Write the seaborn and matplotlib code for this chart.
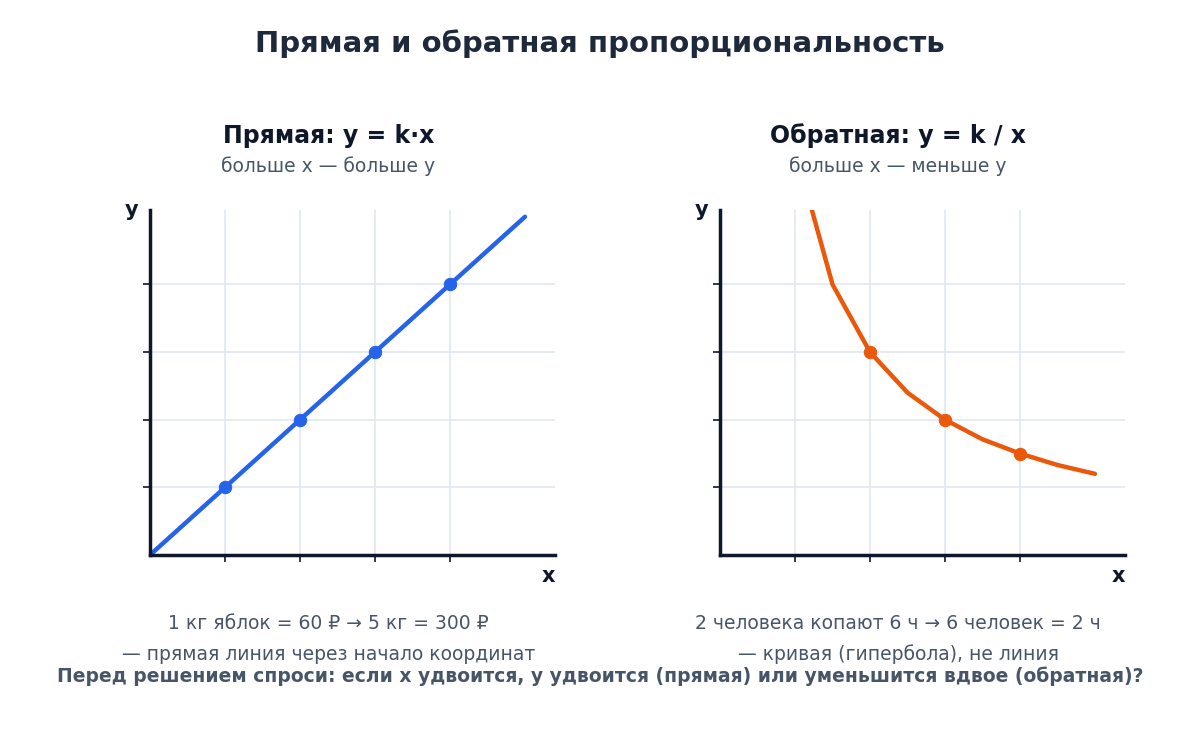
import matplotlib
matplotlib.use("Agg")
import matplotlib.pyplot as plt
import seaborn as sns
import pandas as pd

sns.set_theme(style="white")
plt.rcParams['font.family'] = ['DejaVu Sans']

direct_x = [0, 1, 2, 3, 4, 5]
direct_y = [0, 1, 2, 3, 4, 5]
direct_pts_x = [1, 2, 3, 4]
direct_pts_y = [1, 2, 3, 4]

inv_x = [1, 1.5, 2, 2.5, 3, 3.5, 4, 4.5, 5]
inv_y = [6, 4, 3, 2.4, 2, 1.71, 1.5, 1.33, 1.2]
inv_pts_x = [2, 3, 4]
inv_pts_y = [3, 2, 1.5]

ticks = [1, 2, 3, 4]
BLUE = "#2563eb"
ORANGE = "#ea580c"
DARK = "#1e293b"
GREY = "#475569"

fig = plt.figure(figsize=(12, 7.5), dpi=100)
fig.text(0.5, 0.942, "Прямая и обратная пропорциональность", ha="center", va="center",
         fontsize=21, fontweight="bold", color=DARK)

def panel(left, lx, ly, px, py, color, title, sub, note1, note2):
    ax = fig.add_axes([left, 0.26, 0.3375, 0.46])
    sns.lineplot(x=lx, y=ly, ax=ax, color=color, linewidth=3.2, clip_on=True)
    sns.scatterplot(x=px, y=py, ax=ax, color=color, s=80, edgecolor=color, zorder=5, clip_on=False)
    ax.set_xlim(0, 5.4)
    ax.set_ylim(0, 5.1)
    ax.set_xticks(ticks)
    ax.set_yticks(ticks)
    ax.set_xticklabels([])
    ax.set_yticklabels([])
    ax.grid(True, color="#e2e8f0", linewidth=1.2)
    for s in ["top", "right"]:
        ax.spines[s].set_visible(False)
    for s in ["left", "bottom"]:
        ax.spines[s].set_color("#0f172a")
        ax.spines[s].set_linewidth(2.5)
    ax.tick_params(axis="both", length=5, width=1.2, color="#0f172a", direction="out", bottom=True, left=True)
    ax.set_xlabel(""); ax.set_ylabel("")
    ax.text(-0.03, 1.0, "y", transform=ax.transAxes, ha="right", va="center",
            fontsize=15, fontweight="bold", color="#0f172a")
    ax.text(1.0, -0.06, "x", transform=ax.transAxes, ha="right", va="center",
            fontsize=15, fontweight="bold", color="#0f172a")
    cx = left + 0.3375 * 0.44
    fig.text(cx, 0.819, title, ha="center", va="center", fontsize=17, fontweight="bold", color="#0f172a")
    fig.text(cx, 0.778, sub, ha="center", va="center", fontsize=13.5, color=GREY)
    fig.text(cx, 0.169, note1, ha="center", va="center", fontsize=13.5, color=GREY)
    fig.text(cx, 0.128, note2, ha="center", va="center", fontsize=13.5, color=GREY)

panel(0.125, direct_x, direct_y, direct_pts_x, direct_pts_y, BLUE,
      "Прямая: y = k·x", "больше x — больше y",
      "1 кг яблок = 60 ₽ → 5 кг = 300 ₽", "— прямая линия через начало координат")
panel(0.6, inv_x, inv_y, inv_pts_x, inv_pts_y, ORANGE,
      "Обратная: y = k / x", "больше x — меньше y",
      "2 человека копают 6 ч → 6 человек = 2 ч", "— кривая (гипербола), не линия")

fig.text(0.5, 0.098, "Перед решением спроси: если x удвоится, y удвоится (прямая) или уменьшится вдвое (обратная)?",
         ha="center", va="center", fontsize=13.5, fontweight="bold", color=GREY)

fig.savefig("out.png", dpi=100, facecolor="white")
